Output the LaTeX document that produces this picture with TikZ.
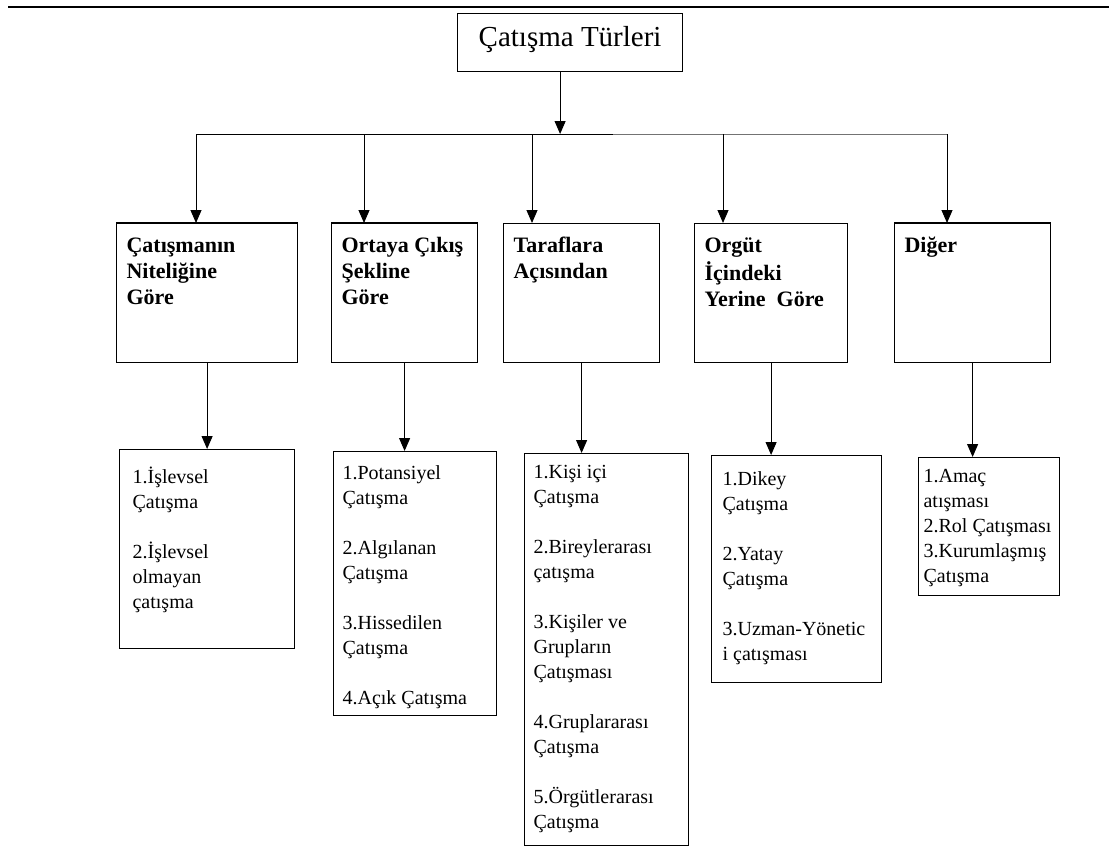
\documentclass[tikz,border=0pt]{standalone}
\usepackage{fontspec}
\setmainfont{Liberation Serif}
\usepackage{tikz}
\usetikzlibrary{arrows.meta, positioning, calc}
\tikzset{
    box_top/.style={rectangle, draw, line width=1.2pt, anchor=north west, inner sep=0pt, text depth=12pt, font=\fontsize{29}{33}\selectfont},
    box_type/.style={rectangle, draw, line width=1.2pt, anchor=north west, inner xsep=10pt, inner ysep=11pt, font=\fontsize{22}{26}\selectfont\bfseries},
    box_list/.style={rectangle, draw, line width=1.2pt, anchor=north west, font=\fontsize{20}{25}\selectfont},
    arrow/.style={-{Triangle[width=11pt,length=13pt]}, line width=1pt},
    bar/.style={line width=1pt}
}
\newcommand{\boxtext}[3]{\parbox[c][#1][t]{#2}{\raggedright\strut #3}}

\begin{document}
\begin{tikzpicture}[x=1pt, y=-1pt]

    \useasboundingbox (0,0) rectangle (1109,846);

    % Rule
    \draw[line width=2.5pt] (8,7) -- (1109,7);

    % Title
    \node[box_top, minimum width=225, minimum height=58] (ana) at (457,13) {Çatışma Türleri};

    % Bar
    \coordinate (b1) at (196,134);
    \coordinate (b2) at (364,134);
    \coordinate (b3) at (532,134);
    \coordinate (b4) at (723,134);
    \coordinate (b5) at (947,134);
    \coordinate (bg) at (613,134);
    \draw[bar] (b1) -- (bg);
    \draw[bar, black!55] (bg) -- ([xshift=1pt]b5);
    \draw[arrow] ([xshift=-10pt]ana.south) -- ([xshift=-10pt]ana.south |- b1);

    % Types
    \node[box_type] (k1) at (116,223) {\boxtext{117pt}{161pt}{Çatışmanın\\Niteliğine\\Göre}};
    \node[box_type] (k2) at (331,223) {\boxtext{117pt}{126pt}{Ortaya Çıkış\\Şekline\\Göre}};
    \node[box_type] (k3) at (503,223) {\boxtext{117pt}{136pt}{Taraflara\\Açısından}};
    \node[box_type] (k4) at (694,223) {\boxtext{117pt}{133pt}{Orgüt\\İçindeki\\Yerine~ Göre}};
    \node[box_type] (k5) at (894,223) {\boxtext{117pt}{136pt}{Diğer}};

    % heavier top edges
    \foreach \k in {k1,k2,k5}
        \draw[line width=2.6pt] (\k.north west) -- (\k.north east);

    % Lists
    \node[box_list, inner xsep=13pt, inner ysep=16.5pt] (l1) at (119,449)
    {\boxtext{166pt}{149pt}{1.İşlevsel\\Çatışma\\[25pt]2.İşlevsel\\olmayan\\çatışma}};

    \node[box_list, inner xsep=9pt, inner ysep=10.5pt] (l2) at (333,451)
    {\boxtext{243pt}{145pt}{1.Potansiyel\\Çatışma\\[25pt]2.Algılanan\\Çatışma\\[25pt]3.Hissedilen\\Çatışma\\[25pt]4.Açık Çatışma}};

    \node[box_list, inner xsep=9pt, inner ysep=7.5pt] (l3) at (524,453)
    {\boxtext{377pt}{146pt}{1.Kişi içi\\Çatışma\\[25pt]2.Bireylerarası\\çatışma\\[25pt]3.Kişiler ve\\Grupların\\Çatışması\\[25pt]4.Gruplararası\\Çatışma\\[25pt]5.Örgütlerarası\\Çatışma}};

    \node[box_list, inner xsep=11pt, inner ysep=12.5pt] (l4) at (711,455)
    {\boxtext{202pt}{148pt}{1.Dikey\\Çatışma\\[25pt]2.Yatay\\Çatışma\\[25pt]3.Uzman-Yönetic\\i çatışması}};

    \node[box_list, inner xsep=5pt, inner ysep=7pt] (l5) at (918,457)
    {\boxtext{124pt}{131pt}{1.Amaç\\atışması\\2.Rol Çatışması\\3.Kurumlaşmış\\Çatışma}};

    % Arrows
    \foreach \i in {1,...,5} {
        \draw[arrow] (b\i) -- (b\i |- k\i.north);
        \draw[arrow] (k\i.south) -- (k\i.south |- l\i.north);
    }

\end{tikzpicture}
\end{document}
